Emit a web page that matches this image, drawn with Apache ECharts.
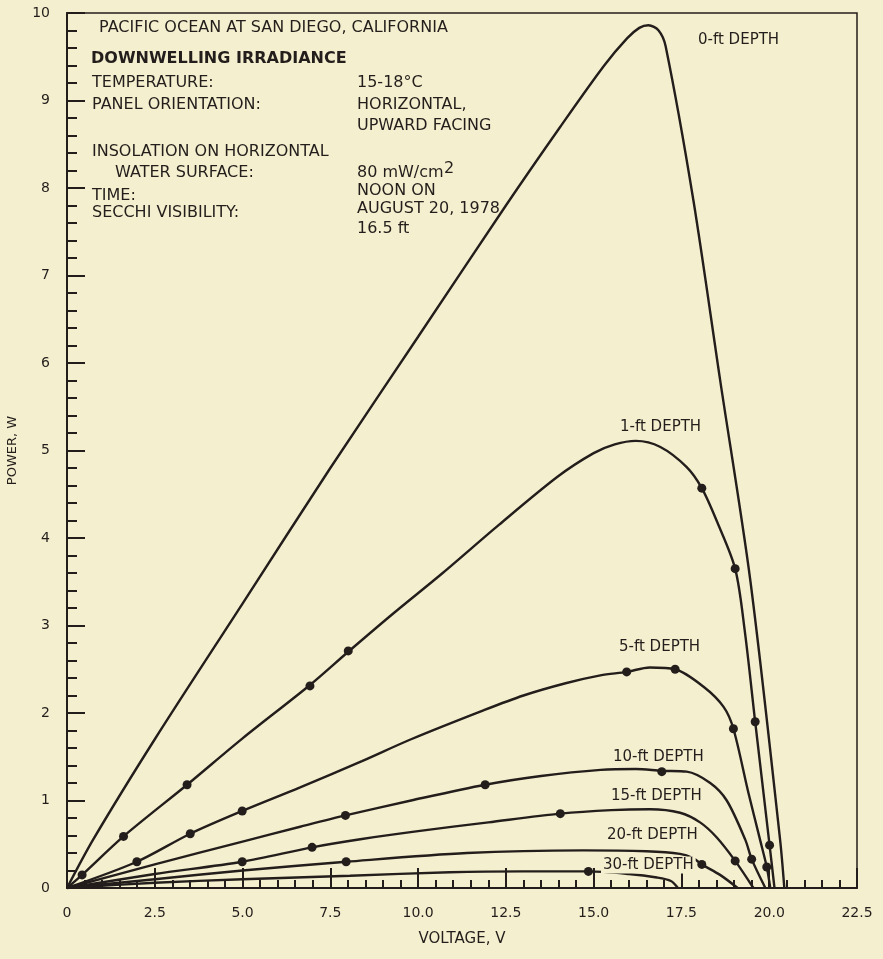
<!DOCTYPE html>
<html>
<head>
<meta charset="utf-8">
<script src="https://cdn.jsdelivr.net/npm/echarts@6/dist/echarts.min.js"></script>
<style>
html,body{margin:0;padding:0;background:#f4efcf;}
#chart{width:883px;height:959px;}
</style>
</head>
<body>
<div id="chart"></div>
<script>
// ---- data ----
const depthNames = ['0-ft DEPTH','1-ft DEPTH','5-ft DEPTH','10-ft DEPTH','15-ft DEPTH','20-ft DEPTH','30-ft DEPTH'];
const xTicks = ['0','2.5','5.0','7.5','10.0','12.5','15.0','17.5','20.0','22.5'];

const curve0 = [[0,0],[0.74,0.55],[2.5,1.7],[5.0,3.25],[7.5,4.8],[10,6.3],[12.5,7.8],[14.05,8.7],[15.3,9.4],[15.95,9.71],[16.3,9.83],[16.56,9.86],[16.85,9.8],[17.05,9.62],[17.84,7.86],[18.6,5.81],[19.46,3.52],[20.31,0.55],[20.43,0]];
const curve1 = [[0,0],[0.43,0.15],[1.61,0.59],[3.42,1.18],[5.0,1.71],[6.92,2.32],[8.01,2.7],[9.3,3.14],[10.7,3.6],[12.3,4.15],[13.97,4.7],[15.0,4.97],[15.6,5.07],[16.2,5.11],[16.9,5.04],[17.65,4.81],[18.08,4.57],[18.5,4.2],[19.03,3.65],[19.3,2.95],[19.6,1.9],[20.01,0.49],[20.15,0]];
const curve5 = [[0,0],[1.99,0.3],[3.51,0.62],[4.99,0.88],[6.64,1.15],[8.4,1.45],[9.8,1.7],[11.86,2.03],[13.0,2.2],[14.2,2.34],[15.19,2.43],[15.94,2.47],[16.6,2.52],[17.32,2.5],[18.13,2.3],[18.7,2.07],[18.98,1.82],[19.4,1.1],[19.74,0.55],[19.93,0.24],[20.03,0]];
const curve10 = [[0,0],[2.5,0.27],[5.0,0.53],[6.64,0.7],[7.93,0.83],[9.8,1.0],[11.91,1.18],[13.5,1.28],[15.2,1.35],[16.2,1.36],[16.94,1.34],[17.65,1.33],[18.32,1.2],[18.79,1.0],[19.32,0.55],[19.5,0.33],[19.89,0]];
const curve15 = [[0,0],[2.5,0.16],[4.99,0.3],[6.98,0.465],[8.4,0.56],[10,0.65],[12,0.75],[14.05,0.85],[15.5,0.89],[16.6,0.9],[17.46,0.86],[18.03,0.75],[18.5,0.58],[19.03,0.31],[19.55,0]];
const curve20 = [[0,0],[2.5,0.1],[5,0.2],[7.95,0.3],[11.39,0.4],[14.7,0.43],[16.5,0.42],[17.46,0.39],[17.84,0.34],[18.08,0.27],[18.6,0.15],[19.1,0]];
const curve30 = [[0,0],[2.5,0.06],[5,0.1],[8.06,0.14],[10.9,0.18],[13,0.19],[14.85,0.19],[16.0,0.16],[16.8,0.12],[17.2,0.08],[17.4,0]];

const pts1 = [[0.43,0.15],[1.61,0.59],[3.42,1.18],[6.92,2.31],[8.01,2.71],[18.08,4.57],[19.03,3.65],[19.6,1.9],[20.01,0.49]];
const pts5 = [[1.99,0.3],[3.51,0.62],[4.99,0.88],[15.94,2.47],[17.32,2.5],[18.98,1.82],[19.93,0.24]];
const pts10 = [[7.93,0.83],[11.91,1.18],[16.94,1.33],[19.5,0.33]];
const pts15 = [[4.99,0.3],[6.98,0.465],[14.05,0.85],[19.03,0.31]];
const pts20 = [[7.95,0.3],[18.08,0.27]];
const pts30 = [[14.85,0.19]];

const curves = [curve0, curve1, curve5, curve10, curve15, curve20, curve30];
const points = [[], pts1, pts5, pts10, pts15, pts20, pts30];

// ---- style ----
const BG = '#f4efcf';
const INK = '#231e1b';
const FONT = '"DejaVu Sans", sans-serif';

const series = [];
curves.forEach((c, i) => {
  series.push({
    name: depthNames[i], type: 'line', data: c, smooth: 0.3,
    showSymbol: false, lineStyle: {color: INK, width: 2.4}, z: 3, silent: true
  });
  if (points[i].length) {
    series.push({
      name: depthNames[i] + ' pts', type: 'scatter', data: points[i],
      symbolSize: 9, itemStyle: {color: INK, opacity: 1}, z: 4, silent: true
    });
  }
});

function txt(x, y, text, opt) {
  opt = opt || {};
  return {
    type: 'text', x: x, y: y, z: 100,
    style: Object.assign({
      text: text, fill: INK, fontFamily: FONT, fontSize: 16,
      verticalAlign: 'middle', align: 'left'
    }, opt)
  };
}
function lbl(x, y, text) {
  return txt(x, y, text, {fontSize: 15, backgroundColor: BG, padding: [1, 2, 1, 2]});
}

const graphics = [
  txt(99, 28, 'PACIFIC OCEAN AT SAN DIEGO, CALIFORNIA'),
  txt(91, 59, 'DOWNWELLING IRRADIANCE', {fontWeight: 'bold', fontSize: 16}),
  txt(92, 83, 'TEMPERATURE:'),
  txt(357, 83, '15-18°C'),
  txt(92, 105, 'PANEL ORIENTATION:'),
  txt(357, 105, 'HORIZONTAL,'),
  txt(357, 126, 'UPWARD FACING'),
  txt(92, 152, 'INSOLATION ON HORIZONTAL'),
  txt(115, 173, 'WATER SURFACE:'),
  txt(357, 173, '80 mW/cm'),
  txt(444, 169, '2'),
  txt(92, 196, 'TIME:'),
  txt(357, 191, 'NOON ON'),
  txt(357, 209, 'AUGUST 20, 1978'),
  txt(92, 213, 'SECCHI VISIBILITY:'),
  txt(357, 229, '16.5 ft'),
  lbl(696, 40, depthNames[0]),
  lbl(618, 427, depthNames[1]),
  lbl(617, 647, depthNames[2]),
  lbl(611, 757, depthNames[3]),
  lbl(609, 796, depthNames[4]),
  lbl(605, 835, depthNames[5]),
  lbl(601, 865, depthNames[6])
];

const chart = echarts.init(document.getElementById('chart'), null, {renderer: 'canvas'});
chart.setOption({
  backgroundColor: BG,
  animation: false,
  grid: {left: 67, right: 26, top: 13, bottom: 71, outerBoundsMode: 'none', containLabel: false,
         show: true, borderColor: INK, borderWidth: 1.5, backgroundColor: 'transparent'},
  xAxis: {
    type: 'value', min: 0, max: 22.5, interval: 2.5,
    name: 'VOLTAGE, V', nameLocation: 'middle', nameGap: 44,
    nameTextStyle: {color: INK, fontFamily: FONT, fontSize: 15},
    axisLine: {show: true, lineStyle: {color: INK, width: 2}},
    axisTick: {show: true, inside: true, length: 20, lineStyle: {color: INK, width: 2}},
    minorTick: {show: true, splitNumber: 5, length: 8, lineStyle: {color: INK, width: 2}},
    splitLine: {show: false}, minorSplitLine: {show: false},
    axisLabel: {
      color: INK, fontFamily: FONT, fontSize: 14, margin: 18,
      formatter: function (v) { return xTicks[Math.round(v / 2.5)]; }
    }
  },
  yAxis: {
    type: 'value', min: 0, max: 10, interval: 1,
    name: 'POWER, W', nameLocation: 'middle', nameGap: 48, nameRotate: 90,
    nameTextStyle: {color: INK, fontFamily: FONT, fontSize: 13},
    axisLine: {show: true, lineStyle: {color: INK, width: 2}},
    axisTick: {show: true, inside: true, length: 18, lineStyle: {color: INK, width: 2}},
    minorTick: {show: true, splitNumber: 5, length: 10, lineStyle: {color: INK, width: 2}},
    splitLine: {show: false}, minorSplitLine: {show: false},
    axisLabel: {color: INK, fontFamily: FONT, fontSize: 14, margin: 17}
  },
  series: series,
  graphic: graphics
});
</script>
</body>
</html>
